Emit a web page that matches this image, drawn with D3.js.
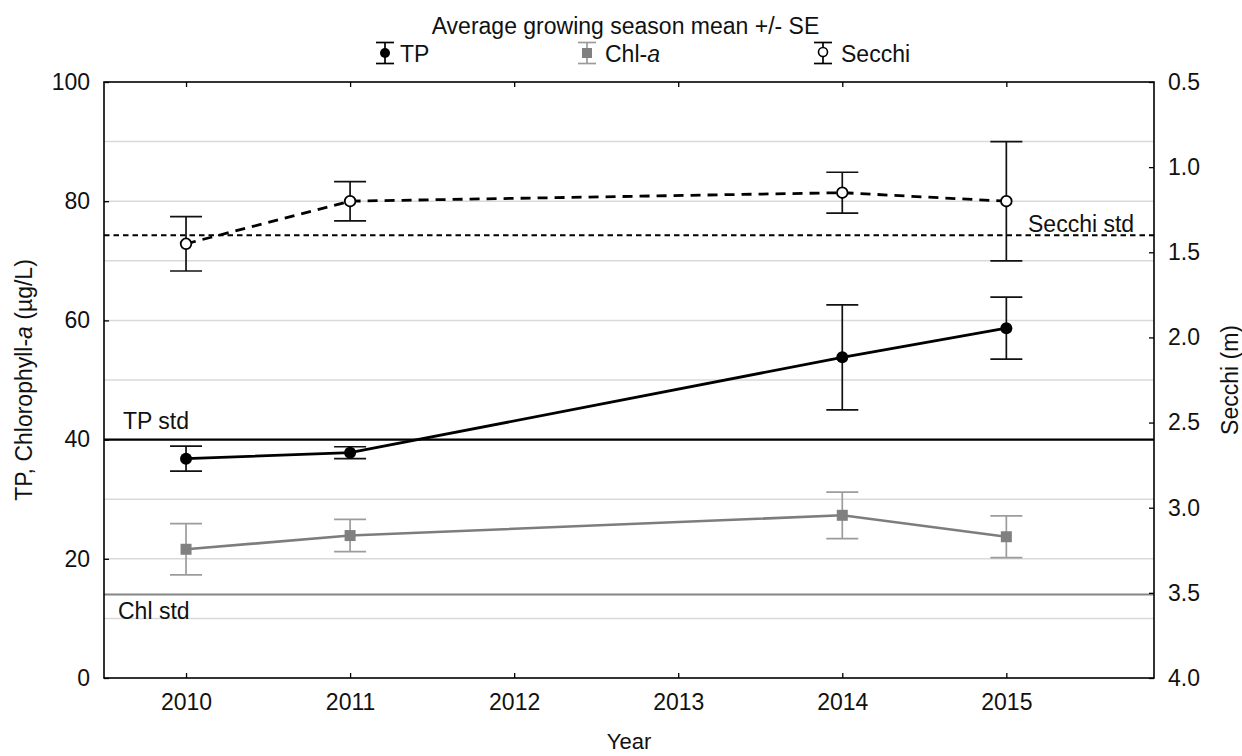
<!DOCTYPE html>
<html>
<head>
<meta charset="utf-8">
<script src="https://cdn.jsdelivr.net/npm/d3@7"></script>
<style>
  html, body { margin: 0; padding: 0; background: #fff; }
  svg { display: block; font-family: "Liberation Sans", Arial, sans-serif; }
</style>
</head>
<body>
<svg id="chart" width="1242" height="756"></svg>
<script>
// Growing season means (+/- SE) by year
const years = [2010, 2011, 2014, 2015];
const yearTicks = [2010, 2011, 2012, 2013, 2014, 2015];

const tpMean = [36.8, 37.8, 53.8, 58.7];
const tpSE = [2.1, 1.0, 8.8, 5.2];

const chlMean = [21.6, 23.9, 27.3, 23.7];
const chlSE = [4.3, 2.7, 3.9, 3.5];

const secchiMean = [1.45, 1.20, 1.15, 1.20];
const secchiSE = [0.16, 0.115, 0.12, 0.35];

// Water quality standards
const tpStd = 40;
const chlStd = 14;
const secchiStd = 1.4;

const leftTicks = [0, 20, 40, 60, 80, 100];
const gridValues = [10, 20, 30, 40, 50, 60, 70, 80, 90];
const rightTicks = [0.5, 1.0, 1.5, 2.0, 2.5, 3.0, 3.5, 4.0];

const FONT = 23;
const plot = { left: 104, right: 1154, top: 82, bottom: 678 };

const svg = d3.select("#chart");

const x = d3.scaleLinear().domain([2009.5, 2015.9]).range([plot.left, plot.right]);
const y = d3.scaleLinear().domain([0, 100]).range([plot.bottom, plot.top]);
const ys = d3.scaleLinear().domain([0.5, 4.0]).range([plot.top, plot.bottom]);

// Horizontal grid
svg.append("g").selectAll("line").data(gridValues).join("line")
  .attr("x1", plot.left).attr("x2", plot.right)
  .attr("y1", d => y(d)).attr("y2", d => y(d))
  .attr("stroke", "#d9d9d9").attr("stroke-width", 1.5);

// Standard lines
svg.append("line")
  .attr("x1", plot.left).attr("x2", plot.right)
  .attr("y1", y(tpStd)).attr("y2", y(tpStd))
  .attr("stroke", "#000").attr("stroke-width", 2.2);
svg.append("line")
  .attr("x1", plot.left).attr("x2", plot.right)
  .attr("y1", y(chlStd)).attr("y2", y(chlStd))
  .attr("stroke", "#858585").attr("stroke-width", 2);
svg.append("line")
  .attr("x1", plot.left).attr("x2", plot.right)
  .attr("y1", ys(secchiStd)).attr("y2", ys(secchiStd))
  .attr("stroke", "#000").attr("stroke-width", 1.8)
  .attr("stroke-dasharray", "5.5,4");

// Standard labels
svg.append("text").attr("x", 123).attr("y", y(tpStd) - 11)
  .attr("font-size", FONT).attr("fill", "#111").text("TP std");
svg.append("text").attr("x", 118).attr("y", y(chlStd) + 24)
  .attr("font-size", FONT).attr("fill", "#111").text("Chl std");
svg.append("text").attr("x", 1028).attr("y", ys(secchiStd) - 3)
  .attr("font-size", FONT).attr("fill", "#111").text("Secchi std");

// Series definitions
const series = [
  { mean: chlMean, se: chlSE, scale: y, line: "#7d7d7d", bar: "#9c9c9c", width: 2.6, dash: null, marker: "square" },
  { mean: tpMean, se: tpSE, scale: y, line: "#000", bar: "#111", width: 2.8, dash: null, marker: "dot" },
  { mean: secchiMean, se: secchiSE, scale: ys, line: "#000", bar: "#111", width: 2.8, dash: "10,7", marker: "open" }
];

const capHalf = 16;

series.forEach(s => {
  const pts = years.map((yr, i) => ({ x: x(yr), m: s.scale(s.mean[i]), lo: s.scale(s.mean[i] - s.se[i]), hi: s.scale(s.mean[i] + s.se[i]) }));

  // connecting line
  svg.append("path")
    .datum(pts)
    .attr("d", d3.line().x(d => d.x).y(d => d.m))
    .attr("fill", "none").attr("stroke", s.line).attr("stroke-width", s.width)
    .attr("stroke-dasharray", s.dash);

  // error bars
  const eb = svg.append("g").attr("stroke", s.bar).attr("stroke-width", 1.7).attr("fill", "none");
  pts.forEach(p => {
    eb.append("line").attr("x1", p.x).attr("x2", p.x).attr("y1", p.lo).attr("y2", p.hi);
    eb.append("line").attr("x1", p.x - capHalf).attr("x2", p.x + capHalf).attr("y1", p.lo).attr("y2", p.lo);
    eb.append("line").attr("x1", p.x - capHalf).attr("x2", p.x + capHalf).attr("y1", p.hi).attr("y2", p.hi);
  });

  // markers
  pts.forEach(p => {
    if (s.marker === "square") {
      svg.append("rect").attr("x", p.x - 5.5).attr("y", p.m - 5.5).attr("width", 11).attr("height", 11)
        .attr("fill", "#808080");
    } else if (s.marker === "dot") {
      svg.append("circle").attr("cx", p.x).attr("cy", p.m).attr("r", 6).attr("fill", "#000");
    } else {
      svg.append("circle").attr("cx", p.x).attr("cy", p.m).attr("r", 5.3)
        .attr("fill", "#fff").attr("stroke", "#000").attr("stroke-width", 1.8);
    }
  });
});

// Frame
svg.append("rect")
  .attr("x", plot.left).attr("y", plot.top)
  .attr("width", plot.right - plot.left).attr("height", plot.bottom - plot.top)
  .attr("fill", "none").attr("stroke", "#000").attr("stroke-width", 1.6);

// Axes with inward ticks
function styleAxis(g) {
  g.select(".domain").remove();
  g.selectAll(".tick line").attr("stroke", "#000").attr("stroke-width", 1.3);
  g.selectAll(".tick text").attr("font-size", FONT).attr("fill", "#111")
    .attr("font-family", "Liberation Sans, Arial, sans-serif");
}

svg.append("g").attr("transform", `translate(${plot.left},0)`)
  .call(d3.axisLeft(y).tickValues(leftTicks).tickSize(-5).tickPadding(14).tickFormat(d3.format("d")))
  .call(styleAxis);

svg.append("g").attr("transform", `translate(${plot.right},0)`)
  .call(d3.axisRight(ys).tickValues(rightTicks).tickSize(-5).tickPadding(14).tickFormat(d3.format(".1f")))
  .call(styleAxis);

svg.append("g").attr("transform", `translate(0,${plot.bottom})`)
  .call(d3.axisBottom(x).tickValues(yearTicks).tickSize(-5).tickPadding(16).tickFormat(d3.format("d")))
  .call(styleAxis);

svg.append("g").attr("transform", `translate(0,${plot.top})`)
  .call(d3.axisTop(x).tickValues(yearTicks).tickSize(-5).tickFormat(""))
  .call(styleAxis);

// Axis titles
const leftTitle = svg.append("text")
  .attr("transform", `translate(31.5,${(plot.top + plot.bottom) / 2}) rotate(-90)`)
  .attr("text-anchor", "middle").attr("font-size", FONT).attr("fill", "#111");
leftTitle.append("tspan").text("TP, Chlorophyll-");
leftTitle.append("tspan").attr("font-style", "italic").text("a");
leftTitle.append("tspan").text(" (µg/L)");

svg.append("text")
  .attr("transform", `translate(1238,${(plot.top + plot.bottom) / 2}) rotate(-90)`)
  .attr("text-anchor", "middle").attr("font-size", FONT).attr("fill", "#111")
  .text("Secchi (m)");

svg.append("text")
  .attr("x", (plot.left + plot.right) / 2).attr("y", 749)
  .attr("text-anchor", "middle").attr("font-size", 22).attr("fill", "#111")
  .text("Year");

// Legend
svg.append("text")
  .attr("x", 625.5).attr("y", 34)
  .attr("text-anchor", "middle").attr("font-size", FONT).attr("fill", "#111")
  .text("Average growing season mean +/- SE");

const legendItems = [
  { cx: 385, tx: 400, color: "#000", marker: "dot", label: ["TP", null] },
  { cx: 587, tx: 605, color: "#9c9c9c", marker: "square", label: ["Chl-", "a"] },
  { cx: 823, tx: 841, color: "#000", marker: "open", label: ["Secchi", null] }
];
const ly = 53;
legendItems.forEach(it => {
  const g = svg.append("g");
  g.append("line").attr("x1", it.cx).attr("x2", it.cx).attr("y1", ly - 10.5).attr("y2", ly + 10.5)
    .attr("stroke", it.color).attr("stroke-width", 1.7);
  [ly - 10.5, ly + 10.5].forEach(cy => {
    g.append("line").attr("x1", it.cx - 9).attr("x2", it.cx + 9).attr("y1", cy).attr("y2", cy)
      .attr("stroke", it.color).attr("stroke-width", 1.7);
  });
  if (it.marker === "dot") {
    g.append("circle").attr("cx", it.cx).attr("cy", ly).attr("r", 5).attr("fill", "#000");
  } else if (it.marker === "square") {
    g.append("rect").attr("x", it.cx - 5).attr("y", ly - 5).attr("width", 10).attr("height", 10).attr("fill", "#808080");
  } else {
    g.append("circle").attr("cx", it.cx).attr("cy", ly - 1).attr("r", 4.5)
      .attr("fill", "#fff").attr("stroke", "#000").attr("stroke-width", 1.6);
  }
  const t = g.append("text").attr("x", it.tx).attr("y", 62).attr("font-size", FONT).attr("fill", "#111");
  t.append("tspan").text(it.label[0]);
  if (it.label[1]) t.append("tspan").attr("font-style", "italic").text(it.label[1]);
});
</script>
</body>
</html>
